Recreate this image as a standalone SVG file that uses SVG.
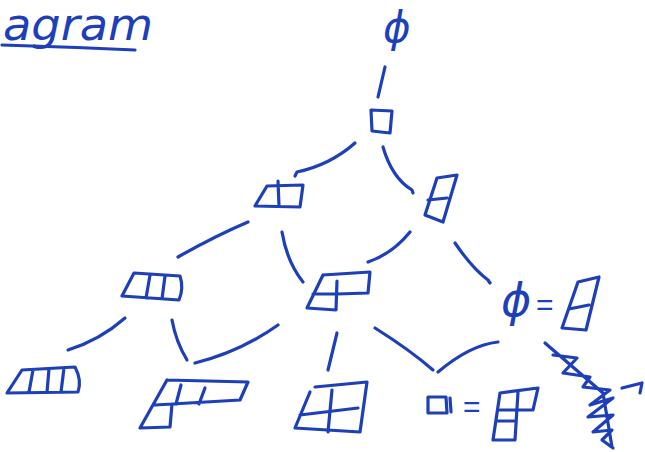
<svg xmlns="http://www.w3.org/2000/svg" width="645" height="452" viewBox="0 0 645 452">
<style>
.ink{fill:none;stroke:#1d3fb8;stroke-width:3.2;stroke-linecap:round;stroke-linejoin:round}
.txt{fill:#1d3fb8;font-family:"DejaVu Sans",sans-serif}
.eq{fill:#1d3fb8;font-family:"Liberation Sans",sans-serif;font-size:30px}
</style>
<rect width="645" height="452" fill="#ffffff"/>
<g id="title">
<text class="txt" x="3" y="40" font-size="44" font-style="italic" textLength="150" lengthAdjust="spacingAndGlyphs">agram</text>
<path class="ink" d="M2,45 Q70,47 135,50"/>
</g>
<g id="connectors">
<path class="ink" d="M385,67 L378,97"/>
<path class="ink" d="M355,143 Q330,165 297,172 L295,176"/>
<path class="ink" d="M383,147 Q392,178 412,190 L413,193"/>
<path class="ink" d="M178,257 Q215,236 248,222"/>
<path class="ink" d="M282,232 Q287,262 303,282"/>
<path class="ink" d="M410,232 Q392,254 368,262"/>
<path class="ink" d="M455,243 Q472,268 488,280 L490,283"/>
<path class="ink" d="M125,318 Q100,340 68,350"/>
<path class="ink" d="M172,320 Q176,342 187,360"/>
<path class="ink" d="M278,325 Q240,352 195,363"/>
<path class="ink" d="M337,333 L328,370"/>
<path class="ink" d="M375,328 Q410,350 433,370"/>
<path class="ink" d="M498,342 Q470,345 438,372"/>
</g>
<g id="n-empty">
<text class="txt" x="383" y="42" font-size="42" font-style="italic">ϕ</text>
</g>
<g id="n-1">
<path class="ink" d="M371,110 L392,111 L390,133 L372,131 Z"/>
</g>
<g id="n-2">
<path class="ink" d="M255,206 L267,186 L303,185 L300,207 Z M278,181 L279,206"/>
</g>
<g id="n-11">
<path class="ink" d="M437,178 L457,175 L443,222 L425,215 Z M428,200 L447,198"/>
</g>
<g id="n-3">
<path class="ink" d="M122,296 L134,273 L180,276 Q184,288 179,300 Z M150,275 L146,298 M165,276 L162,299"/>
</g>
<g id="n-21">
<path class="ink" d="M323,275 L370,272 L368,293 L337,294 M323,275 L307,308 L336,310 L337,281 M313,294 L337,294"/>
</g>
<g id="n-111">
<text class="txt" x="501" y="316" font-size="46" font-style="italic">ϕ</text>
<text class="eq" x="536" y="315">=</text>
<path class="ink" d="M578,282 L599,277 L586,330 L562,328 Z M569,309 L589,305"/>
</g>
<g id="n-4">
<path class="ink" d="M22,370 L75,367 Q82,380 78,392 L7,393 Z M33,370 L29,392 M49,369 L47,392 M64,368 L61,392"/>
</g>
<g id="n-31">
<path class="ink" d="M167,380 L248,382 L240,400 L155,405 M167,380 L140,428 L170,427 L172,404 M181,385 L176,404 M205,388 L199,404"/>
</g>
<g id="n-22">
<path class="ink" d="M310,392 L295,428 L360,432 L367,382 L315,387 M300,415 L358,408 M332,390 L328,432"/>
</g>
<g id="n-211">
<path class="ink" d="M428,397 L446,397 L447,413 L428,413 Z M450,398 L451,412"/>
<text class="eq" x="463" y="417">=</text>
<path class="ink" d="M500,393 L538,388 L533,410 L500,410 M500,393 L493,440 L515,440 L518,392 M497,421 L516,421"/>
</g>
<g id="n-1111">
<path class="ink" d="M545,343 L603,393 M553,355 L577,358 L563,373 L590,377 L583,387 L610,390 L590,405 L613,398 L588,417 L613,415 L593,432 L612,430 L602,440 L613,448 M603,393 L612,447 M622,388 L642,383 L640,393"/>
</g>
</svg>
